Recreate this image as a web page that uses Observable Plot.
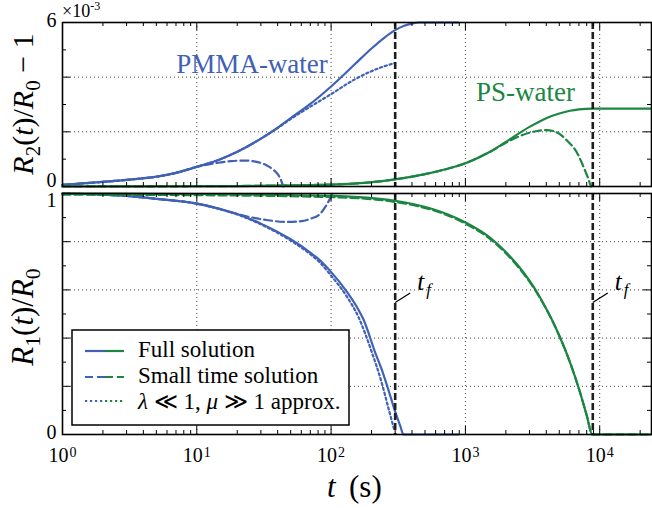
<!DOCTYPE html>
<html><head><meta charset="utf-8">
<script src="https://cdn.jsdelivr.net/npm/d3@7"></script>
<script src="https://cdn.jsdelivr.net/npm/@observablehq/plot@0.6"></script>
<style>
body{margin:0;background:#fff;}
#wrap{position:relative;width:652px;height:508px;background:#fff;}
#wrap svg text, #wrap svg tspan{font-family:'Liberation Serif','DejaVu Serif','Times New Roman',serif;}
</style></head><body><div id="wrap"></div>
<script>
// ---------- data ----------
// PMMA-water, R2/R0 - 1  (units of 1e-3)
const pmmaFullR2T   = [1, 2, 3, 5, 7, 10, 15, 20, 30, 40, 50, 70, 100, 150, 200, 250, 300, 350, 400, 450, 885];
const pmmaFullR2    = [0.06, 0.17, 0.24, 0.36, 0.5, 0.72, 1.0, 1.27, 1.75, 2.15, 2.5, 3.02, 3.66, 4.47, 5.05, 5.45, 5.72, 5.88, 5.96, 6.0, 6.0];
const pmmaSmallR2T  = [1, 2, 3, 5, 7, 10, 14, 18, 23, 28, 33, 37, 40, 42, 44];
const pmmaSmallR2   = [0.06, 0.17, 0.24, 0.36, 0.5, 0.72, 0.86, 0.93, 0.95, 0.9, 0.78, 0.62, 0.45, 0.28, 0.0];
const pmmaApproxR2T = [1, 2, 3, 5, 7, 10, 15, 20, 30, 40, 50, 70, 100, 150, 200, 250, 300];
const pmmaApproxR2  = [0.06, 0.17, 0.24, 0.36, 0.5, 0.72, 1.0, 1.27, 1.75, 2.14, 2.47, 2.92, 3.38, 3.92, 4.22, 4.4, 4.52];
// PMMA-water, R1/R0
const pmmaFullR1T   = [1, 2, 3, 5, 10, 15, 20, 30, 50, 70, 83, 98, 130, 159, 174, 213, 238, 262, 300, 330, 345, 885];
const pmmaFullR1    = [1.0, 0.995, 0.99, 0.978, 0.958, 0.935, 0.915, 0.875, 0.81, 0.755, 0.722, 0.68, 0.595, 0.52, 0.478, 0.34, 0.27, 0.2, 0.095, 0.03, 0.0, 0.0];
const pmmaSmallR1T  = [1, 2, 3, 5, 10, 14, 19, 25, 33, 47, 60, 70, 83, 92, 100, 107];
const pmmaSmallR1   = [1.0, 0.995, 0.99, 0.978, 0.958, 0.94, 0.918, 0.902, 0.89, 0.882, 0.885, 0.895, 0.916, 0.95, 0.985, 1.0];
const pmmaApproxR1T = [1, 2, 3, 5, 10, 15, 20, 30, 50, 70, 83, 98, 130, 159, 200, 238, 270, 295];
const pmmaApproxR1  = [1.0, 0.995, 0.99, 0.978, 0.958, 0.934, 0.913, 0.872, 0.805, 0.748, 0.712, 0.665, 0.575, 0.49, 0.345, 0.215, 0.1, 0.02];
// PS-water, R2/R0 - 1  (units of 1e-3)
const psFullR2T  = [1, 10, 100, 300, 500, 700, 1000, 1500, 2000, 3000, 4000, 5000, 6000, 7000, 8880, 24300];
const psFullR2   = [0.0, 0.01, 0.07, 0.26, 0.45, 0.62, 0.85, 1.25, 1.63, 2.18, 2.5, 2.67, 2.77, 2.82, 2.85, 2.85];
const psSmallR2T = [1, 10, 100, 300, 500, 700, 1000, 1500, 2000, 2500, 3000, 3500, 4000, 4500, 5000, 6000, 6400, 7000, 7600, 8200, 8600];
const psSmallR2  = [0.0, 0.01, 0.07, 0.26, 0.45, 0.62, 0.85, 1.25, 1.6, 1.83, 1.97, 2.04, 2.06, 2.03, 1.93, 1.57, 1.42, 1.1, 0.7, 0.3, 0.0];
// PS-water, R1/R0
const psFullR1T  = [1, 10, 100, 300, 1000, 1500, 2000, 2500, 3000, 3500, 4000, 4530, 5000, 5500, 6000, 7000, 8000, 8800, 24300];
const psFullR1   = [1.0, 0.998, 0.99, 0.97, 0.88, 0.82, 0.757, 0.697, 0.638, 0.58, 0.522, 0.463, 0.41, 0.355, 0.30, 0.19, 0.08, 0.0, 0.0];
const psSmallR1  = [0.995, 0.993, 0.985, 0.965, 0.875, 0.815, 0.752, 0.692, 0.634, 0.577, 0.52, 0.462, 0.41, 0.355, 0.30, 0.19, 0.08, 0.0, 0.0];
// final times t_f
const tfTimes = [300, 8880];
// axes
const xDomain = [1, 24300];
const xTickExponents = [0, 1, 2, 3, 4];
const topYTickLabels = [0, 6];
const topYMajor = [0, 2, 4, 6];
const topYMinor = [1, 3, 5];
const botYTickLabels = [0, 1];
const botYMajor = [0, 0.2, 0.4, 0.6, 0.8, 1];
const botYMinor = [0.1, 0.3, 0.5, 0.7, 0.9];
const seriesLabels = [
  {name: "PMMA-water", t: 25.8, v: 4.15, color: "blue"},
  {name: "PS-water", t: 2800, v: 3.13, color: "green"}
];
const legendItems = ["Full solution", "Small time solution", "approx"];

// ---------- styling ----------
const FONT = "'Liberation Serif','DejaVu Serif','Times New Roman',serif";
const BLUE = "#4061b4", GREEN = "#1b8642";
const COL = {blue: BLUE, green: GREEN};
const SOLID = null, DASH = "8,4", DOT = "2.2,2.8";
const LW = 2.2;

const xMajor = xTickExponents.map(e => 10 ** e);
const xMinor = [];
for (const d of xMajor) for (let k = 2; k <= 9; k++) if (d * k <= xDomain[1]) xMinor.push(d * k);
const xGrid = xMajor.slice(1);

const ser = (T, V) => T.map((t, i) => ({t, v: V[i]}));
const line = (T, V, color, dash) => Plot.line(ser(T, V), {x: "t", y: "v", stroke: color, strokeWidth: LW, strokeDasharray: dash, curve: "monotone-x"});

const W = 652, ML = 62, MR = 1;
const innerW = W - ML - MR;

function ticks(innerH, yMajor, yMinor) {
  const s = {stroke: "#000", strokeWidth: 1};
  return [
    Plot.ruleX(xMajor, {...s, insetTop: innerH - 8}),
    Plot.ruleX(xMajor, {...s, insetBottom: innerH - 8}),
    Plot.ruleX(xMinor, {...s, insetTop: innerH - 4}),
    Plot.ruleX(xMinor, {...s, insetBottom: innerH - 4}),
    Plot.ruleY(yMajor, {...s, insetRight: innerW - 8}),
    Plot.ruleY(yMajor, {...s, insetLeft: innerW - 8}),
    Plot.ruleY(yMinor, {...s, insetRight: innerW - 4}),
    Plot.ruleY(yMinor, {...s, insetLeft: innerW - 4})
  ];
}
const gridStyle = {stroke: "#000", strokeOpacity: 0.75, strokeWidth: 1, strokeDasharray: "1,3"};
const tfStyle = {stroke: "#1e1e1e", strokeWidth: 2.6, strokeDasharray: "7,3"};
const style = {fontFamily: FONT, fontSize: "20px", color: "#000", background: "transparent", overflow: "visible"};

// ---------- top panel ----------
const topH = 190, topMT = 22, topMB = 4;
const topPlot = Plot.plot({
  width: W, height: topH, marginTop: topMT, marginBottom: topMB, marginLeft: ML, marginRight: MR,
  x: {type: "log", domain: xDomain, axis: null},
  y: {domain: [0, 6], axis: null},
  style,
  marks: [
    Plot.ruleX(xGrid, gridStyle),
    Plot.ruleY(topYMajor.slice(1, -1), gridStyle),
    line(pmmaFullR2T, pmmaFullR2, BLUE, SOLID),
    line(pmmaSmallR2T, pmmaSmallR2, BLUE, DASH),
    line(pmmaApproxR2T, pmmaApproxR2, BLUE, DOT),
    line(psFullR2T, psFullR2, GREEN, SOLID),
    line(psSmallR2T, psSmallR2, GREEN, DASH),
    Plot.ruleX(tfTimes, tfStyle),
    Plot.frame({stroke: "#000", strokeWidth: 1.6}),
    ...ticks(topH - topMT - topMB, topYMajor, topYMinor),
    Plot.text([topYTickLabels[1]], {y: d => d, text: d => String(d), frameAnchor: "left", textAnchor: "end", dx: -6, dy: -2, fontSize: 20}),
    Plot.text([topYTickLabels[0]], {y: d => d, text: d => String(d), frameAnchor: "left", textAnchor: "end", dx: -6, dy: -6, fontSize: 20}),
    Plot.text(seriesLabels, {x: "t", y: "v", text: "name", fill: d => COL[d.color], fontSize: 27, lineAnchor: "bottom", textAnchor: "middle"})
  ]
});

// ---------- bottom panel ----------
const botH = 318, botMT = 3, botMB = 74;
const leaderFactor = Math.pow(10, 15 / (innerW / Math.log10(xDomain[1])));
const botPlot = Plot.plot({
  width: W, height: botH, marginTop: botMT, marginBottom: botMB, marginLeft: ML, marginRight: MR,
  x: {type: "log", domain: xDomain, axis: null},
  y: {domain: [0, 1], axis: null},
  style,
  marks: [
    Plot.ruleX(xGrid, gridStyle),
    Plot.ruleY(botYMajor.slice(1, -1), gridStyle),
    line(pmmaFullR1T, pmmaFullR1, BLUE, SOLID),
    line(pmmaSmallR1T, pmmaSmallR1, BLUE, DASH),
    line(pmmaApproxR1T, pmmaApproxR1, BLUE, DOT),
    line(psFullR1T, psFullR1, GREEN, SOLID),
    line(psFullR1T, psSmallR1, GREEN, DASH),
    Plot.ruleX(tfTimes, tfStyle),
    Plot.link(tfTimes, {x1: d => d, x2: d => d * leaderFactor, y1: 0.548, y2: 0.587, stroke: "#000", strokeWidth: 1.3}),
    Plot.text(tfTimes, {x: d => d, y: 0.598, text: () => "t", dx: 22, textAnchor: "start", lineAnchor: "bottom", fontSize: 25, fontStyle: "italic"}),
    Plot.text(tfTimes, {x: d => d, y: 0.598, text: () => "f", dx: 31, dy: 5, textAnchor: "start", lineAnchor: "bottom", fontSize: 17, fontStyle: "italic"}),
    Plot.frame({stroke: "#000", strokeWidth: 1.6}),
    ...ticks(botH - botMT - botMB, botYMajor, botYMinor),
    Plot.text([botYTickLabels[1]], {y: d => d, text: d => String(d), frameAnchor: "left", textAnchor: "end", dx: -6, dy: 7, fontSize: 20}),
    Plot.text([botYTickLabels[0]], {y: d => d, text: d => String(d), frameAnchor: "left", textAnchor: "end", dx: -6, dy: -2, fontSize: 20}),
    Plot.text(xMajor, {x: d => d, frameAnchor: "bottom", text: () => "10", textAnchor: "middle", lineAnchor: "bottom", dx: -4, dy: 27.7, fontSize: 20}),
    Plot.text(xTickExponents, {x: e => 10 ** e, frameAnchor: "bottom", text: e => String(e), textAnchor: "start", lineAnchor: "bottom", dx: 7, dy: 22.5, fontSize: 14})
  ]
});

const wrap = document.getElementById("wrap");
for (const [svg, top] of [[topPlot, 0], [botPlot, topH]]) {
  svg.style.position = "absolute";
  svg.style.left = "0px";
  svg.style.top = top + "px";
  svg.setAttribute("font-family", FONT);
  wrap.appendChild(svg);
}

// rich text helper (italic / subscript / superscript)
function rich(sel, parts, size) {
  let shift = 0;
  for (const p of parts) {
    const ts = sel.append("tspan").text(p.t);
    if (p.i) ts.attr("font-style", "italic");
    const target = p.sub ? 0.22 * size : p.sup ? -0.4 * size : 0;
    if (target !== shift) ts.attr("dy", target - shift);
    shift = target;
    if (p.sub || p.sup) ts.attr("font-size", size * 0.7);
  }
  return sel;
}

const ts = d3.select(topPlot);
// scale multiplier
const mult = ts.append("text").attr("x", 62).attr("y", 16.5).attr("text-anchor", "start")
  .attr("font-family", FONT).attr("font-size", 18).attr("fill", "#000");
mult.append("tspan").text("×10");
mult.append("tspan").attr("font-size", 12).attr("dy", -7).text("-3");
// y title top
rich(ts.append("text").attr("transform", "translate(33,104) rotate(-90)").attr("text-anchor", "middle")
  .attr("font-family", FONT).attr("font-size", 30).attr("fill", "#000"),
  [{t: "R", i: true}, {t: "2", sub: true}, {t: "("}, {t: "t", i: true}, {t: ")/"}, {t: "R", i: true}, {t: "0", sub: true}, {t: " − 1"}], 30);

const bs = d3.select(botPlot);
rich(bs.append("text").attr("transform", "translate(33,127) rotate(-90)").attr("text-anchor", "middle")
  .attr("font-family", FONT).attr("font-size", 31).attr("fill", "#000"),
  [{t: "R", i: true}, {t: "1", sub: true}, {t: "("}, {t: "t", i: true}, {t: ")/"}, {t: "R", i: true}, {t: "0", sub: true}], 31);
// x title
const xt = bs.append("text").attr("x", 327).attr("y", 307).attr("text-anchor", "start")
  .attr("font-family", FONT).attr("font-size", 31).attr("fill", "#000");
xt.append("tspan").attr("font-style", "italic").text("t");
xt.append("tspan").attr("x", 349).text("(s)");

// legend
const lg = bs.append("g");
lg.append("rect").attr("x", 72).attr("y", 140).attr("width", 277).attr("height", 95)
  .attr("fill", "#fff").attr("stroke", "#000").attr("stroke-width", 1.5);
const dashes = [SOLID, DASH, DOT];
const rowsY = [161, 187, 211];
const textY = [166.7, 192.7, 219];
legendItems.forEach((name, i) => {
  lg.append("line").attr("x1", 85).attr("x2", 105).attr("y1", rowsY[i]).attr("y2", rowsY[i])
    .attr("stroke", BLUE).attr("stroke-width", LW).attr("stroke-dasharray", dashes[i]);
  lg.append("line").attr("x1", 105).attr("x2", 124).attr("y1", rowsY[i]).attr("y2", rowsY[i])
    .attr("stroke", GREEN).attr("stroke-width", LW).attr("stroke-dasharray", dashes[i]);
  const tx = lg.append("text").attr("x", 138).attr("y", textY[i]).attr("text-anchor", "start")
    .attr("font-family", FONT).attr("font-size", 23).attr("fill", "#000");
  if (name === "approx") {
    rich(tx, [{t: "λ", i: true}, {t: " ≪ 1, "}, {t: "μ", i: true}, {t: " ≫ 1 approx."}], 23);
  } else tx.text(name);
});
</script></body></html>
